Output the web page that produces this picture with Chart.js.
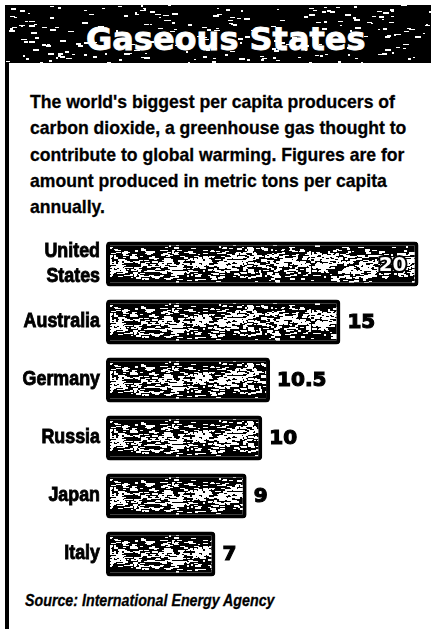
<!DOCTYPE html>
<html>
<head>
<meta charset="utf-8">
<title>Gaseous States</title>
<script src="https://cdn.jsdelivr.net/npm/chart.js@4.4.1/dist/chart.umd.min.js"></script>
<style>
  html, body { margin: 0; padding: 0; background: #fff; }
  body { width: 431px; height: 629px; position: relative; overflow: hidden; }
  #rule { position: absolute; left: 5px; top: 5px; width: 4px; height: 624px; background: #000; }
  #title { position: absolute; left: 5px; top: 5px; width: 426px; height: 58px; background-color: #000; }
  #title span {
    position: absolute; left: 81px; top: 18px;
    color: #fff; font: bold 32px/32px "DejaVu Sans", sans-serif; white-space: nowrap;
    -webkit-text-stroke: 0.8px #fff;
  }
  #intro {
    position: absolute; left: 30px; top: 89px;
    font: bold 19px/26.3px "Liberation Sans", Arial, sans-serif;
    color: #000; white-space: nowrap; transform-origin: 0 0;
    -webkit-text-stroke: 0.3px #000;
  }
  #chartBox { position: absolute; left: 0; top: 235px; width: 431px; height: 348px; }
  #source {
    position: absolute; left: 25px; top: 593px;
    font: italic bold 16px/16px "Liberation Sans", Arial, sans-serif;
    color: #000; white-space: nowrap; transform-origin: 0 0;
    -webkit-text-stroke: 0.3px #000;
  }
</style>
</head>
<body>
<div id="rule"></div>
<div id="title"><span>Gaseous States</span></div>
<div id="intro">The world's biggest per capita producers of<br>carbon dioxide, a greenhouse gas thought to<br>contribute to global warming. Figures are for<br>amount produced in metric tons per capita<br>annually.</div>
<div id="chartBox"><canvas id="chart" width="431" height="348"></canvas></div>
<div id="source">Source: International Energy Agency</div>

<script>
// Data (metric tons of CO2 per capita, annually)
const countries = [['United', 'States'], 'Australia', 'Germany', 'Russia', 'Japan', 'Italy'];
const emissions = [20, 15, 10.5, 10, 9, 7];
const axisMax = 20.8;

// the print uses a condensed bold face; squeeze Liberation Sans to match
const narrowFont = '"Liberation Sans", Arial, sans-serif';
const labelSqueeze = 0.85;

function squeezeTo(el, font, text, target) {
  const m = document.createElement('canvas').getContext('2d');
  m.font = font;
  const k = target / m.measureText(text).width;
  el.style.transform = 'scaleX(' + k.toFixed(3) + ')';
}
squeezeTo(document.getElementById('intro'), 'bold 19px ' + narrowFont,
  "The world's biggest per capita producers of", 365);
squeezeTo(document.getElementById('source'), 'italic bold 16px ' + narrowFont,
  'Source: International Energy Agency', 250);

// deterministic hash for the printed "grain" texture (not data)
function hash(n) {
  const s = Math.sin(n * 127.1 + 311.7) * 43758.5453;
  return s - Math.floor(s);
}

// black tile with white flecks; band = [centre, spread] keeps them in a strip
function speckle(w, h, count, maxLen, band) {
  const c = document.createElement('canvas');
  c.width = w; c.height = h;
  const g = c.getContext('2d');
  g.fillStyle = '#000';
  g.fillRect(0, 0, w, h);
  g.fillStyle = '#fff';
  for (let i = 0; i < count; i++) {
    const x = Math.floor(hash(i) * w);
    let y;
    if (band) {
      const v = (hash(i + 1000) + hash(i + 4000)) / 2;
      y = Math.floor(band[0] + (v - 0.5) * band[1]);
    } else {
      y = Math.floor(hash(i + 1000) * h);
    }
    const len = Math.ceil(1 + hash(i + 2000) * maxLen);
    const th = 1 + Math.floor(hash(i + 3000) * 2);
    g.fillRect(x, y, len, th);
  }
  return c;
}

// title band grain
document.getElementById('title').style.backgroundImage =
  'url(' + speckle(426, 58, 240, 5, null).toDataURL() + ')';

const canvas = document.getElementById('chart');
const ctx = canvas.getContext('2d');
// tile height equals one category row so the grain sits in the middle of every bar
const rowHeight = canvas.height / countries.length;
const barFill = ctx.createPattern(
  speckle(311, Math.round(rowHeight), 1150, 5, [rowHeight / 2, 40]), 'repeat');

// category names, drawn at the y scale's tick positions in a squeezed face
const categoryLabels = {
  id: 'categoryLabels',
  afterDraw(chart) {
    const c = chart.ctx;
    const yScale = chart.scales.y;
    const right = chart.chartArea.left - 6;
    c.save();
    c.fillStyle = '#000';
    c.strokeStyle = '#000';
    c.lineWidth = 0.9;
    c.textAlign = 'right';
    c.textBaseline = 'alphabetic';
    c.font = 'bold 21px ' + narrowFont;
    countries.forEach((name, i) => {
      const y = yScale.getPixelForTick(i);
      const lines = Array.isArray(name) ? name : [name];
      const first = y + 5 - (lines.length - 1) * 12.5;
      lines.forEach((line, j) => {
        c.save();
        c.translate(right, first + j * 25);
        c.scale(labelSqueeze, 1);
        c.fillText(line, 0, 0);
        c.strokeText(line, 0, 0);
        c.restore();
      });
    });
    c.restore();
  }
};

// value labels at bar ends; white inside the bar when it does not fit outside
const valueLabels = {
  id: 'valueLabels',
  afterDatasetsDraw(chart) {
    const c = chart.ctx;
    const meta = chart.getDatasetMeta(0);
    c.save();
    c.font = 'bold 20px "DejaVu Sans", sans-serif';
    c.textBaseline = 'alphabetic';
    meta.data.forEach((bar, i) => {
      const txt = String(emissions[i]);
      const w = c.measureText(txt).width;
      if (bar.x + 8 + w > chart.chartArea.right) {
        c.textAlign = 'right';
        c.lineWidth = 4;
        c.strokeStyle = '#000';
        c.strokeText(txt, bar.x - 12, bar.y + 7);
        c.fillStyle = '#fff';
        c.fillText(txt, bar.x - 12, bar.y + 7);
      } else {
        c.textAlign = 'left';
        c.fillStyle = '#000';
        c.strokeStyle = '#000';
        c.lineWidth = 1.2;
        c.fillText(txt, bar.x + 7, bar.y + 6);
        c.strokeText(txt, bar.x + 7, bar.y + 6);
      }
    });
    c.restore();
  }
};

new Chart(ctx, {
  type: 'bar',
  data: {
    labels: countries,
    datasets: [{
      data: emissions,
      backgroundColor: barFill,
      borderColor: '#000',
      borderWidth: 4,
      borderRadius: 4,
      borderSkipped: false,
      barPercentage: 0.78,
      categoryPercentage: 1
    }]
  },
  options: {
    indexAxis: 'y',
    responsive: false,
    animation: false,
    devicePixelRatio: 1,
    layout: { padding: 0 },
    plugins: {
      legend: { display: false },
      title: { display: false },
      tooltip: { enabled: false }
    },
    scales: {
      x: {
        display: false,
        min: 0,
        max: axisMax
      },
      y: {
        grid: { display: false, drawTicks: false },
        border: { display: false },
        ticks: { display: false },
        afterFit: (scale) => { scale.width = 106; }
      }
    }
  },
  plugins: [valueLabels, categoryLabels]
});
</script>
</body>
</html>
